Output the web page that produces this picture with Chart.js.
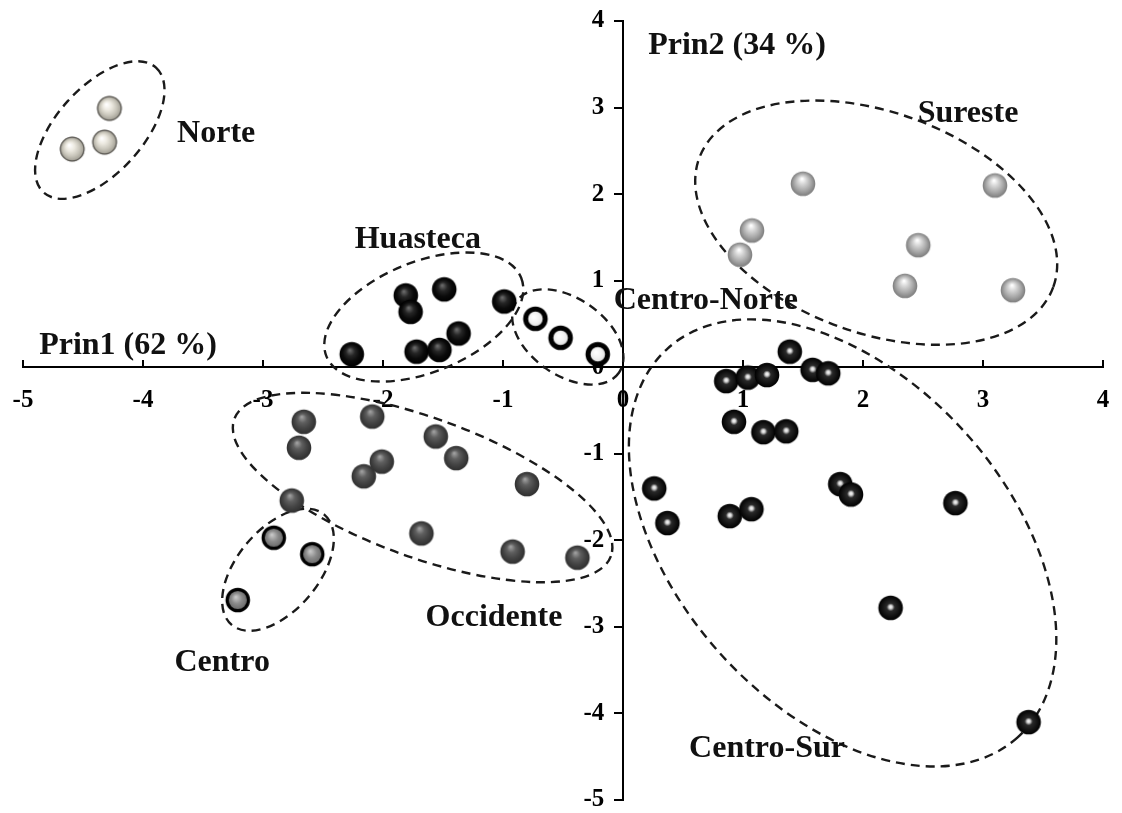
<!DOCTYPE html>
<html>
<head>
<meta charset="utf-8">
<script src="https://cdn.jsdelivr.net/npm/chart.js@4/dist/chart.umd.min.js"></script>
<style>
  html, body { margin: 0; padding: 0; background: #fff; }
  canvas { display: block; }
</style>
</head>
<body>
<canvas id="pca" width="1122" height="813"></canvas>
<script>
// puntajes (Prin1, Prin2)
const norteX = [-4.28, -4.32, -4.59];
const norteY = [2.99, 2.60, 2.52];

const huastecaX = [-2.26, -1.81, -1.77, -1.49, -1.72, -1.53, -1.37, -0.99];
const huastecaY = [0.15, 0.83, 0.64, 0.90, 0.18, 0.20, 0.39, 0.76];

const centroNorteX = [-0.73, -0.52, -0.21];
const centroNorteY = [0.56, 0.34, 0.15];

const suresteX = [0.975, 1.075, 1.50, 2.35, 2.46, 3.10, 3.25];
const suresteY = [1.30, 1.58, 2.12, 0.94, 1.41, 2.10, 0.89];

const occidenteX = [-2.76, -2.70, -2.66, -2.16, -2.09, -2.01, -1.68, -1.56, -1.39, -0.92, -0.80, -0.38];
const occidenteY = [-1.54, -0.93, -0.63, -1.26, -0.57, -1.09, -1.92, -0.80, -1.05, -2.13, -1.35, -2.20];

const centroX = [-3.21, -2.91, -2.59];
const centroY = [-2.69, -1.97, -2.16];

const centroSurX = [0.26, 0.37, 0.86, 0.89, 0.925, 1.04, 1.07, 1.17, 1.20, 1.36, 1.39, 1.58, 1.71, 1.81, 1.90, 2.23, 2.77, 3.38];
const centroSurY = [-1.40, -1.80, -0.16, -1.72, -0.63, -0.12, -1.64, -0.75, -0.09, -0.74, 0.18, -0.03, -0.07, -1.35, -1.47, -2.78, -1.57, -4.10];

const xTicks = [-5, -4, -3, -2, -1, 0, 1, 2, 3, 4];
const yTicks = [-5, -4, -3, -2, -1, 0, 1, 2, 3, 4];

const FONT = '"Liberation Serif", "Times New Roman", serif';

// esferas dibujadas en un canvas chico, usadas como pointStyle
const sphere = (kind) => {
  const s = 30, c = document.createElement('canvas');
  c.width = s; c.height = s;
  const g = c.getContext('2d');
  const cx = s / 2, cy = s / 2, r = 12.3;

  const shaded = (stops, hx, hy, rad) => {
    const gr = g.createRadialGradient(cx + hx, cy + hy, 0.5, cx, cy, rad);
    stops.forEach((col, i) => gr.addColorStop(i / (stops.length - 1), col));
    g.beginPath();
    g.arc(cx, cy, rad, 0, Math.PI * 2);
    g.fillStyle = gr;
    g.fill();
  };

  if (kind == 'norte') {
    shaded(['#ffffff', '#ecE9e0', '#c9c6bb', '#9b988e'], -3, -4, r);
    g.lineWidth = 1.2; g.strokeStyle = '#55534e';
    g.beginPath(); g.arc(cx, cy, r - 0.5, 0, Math.PI * 2); g.stroke();
  } else if (kind == 'sureste') {
    shaded(['#ffffff', '#d2d2d2', '#a9a9a9', '#7d7d7d'], -1, -5, r);
  } else if (kind == 'huasteca') {
    shaded(['#6a6a6a', '#262626', '#0b0b0b', '#000000'], -2, -4, r);
  } else if (kind == 'occidente') {
    shaded(['#a0a0a0', '#5f5f5f', '#444444', '#2f2f2f'], -2, -5, r);
  } else if (kind == 'centro') {
    shaded(['#c8c8c8', '#8a8a8a', '#666666'], -2, -3, r - 2);
    g.lineWidth = 3.2; g.strokeStyle = '#000';
    g.beginPath(); g.arc(cx, cy, r - 1.6, 0, Math.PI * 2); g.stroke();
  } else if (kind == 'centroNorte') {
    shaded(['#ffffff', '#f2f2f2', '#d8d8d8'], -2, -2, r - 3);
    g.lineWidth = 5; g.strokeStyle = '#000';
    g.beginPath(); g.arc(cx, cy, r - 2.5, 0, Math.PI * 2); g.stroke();
  } else {
    // centro-sur: negro con brillo blanco al centro
    const gr = g.createRadialGradient(cx, cy - 1, 0, cx, cy, r);
    gr.addColorStop(0, '#ffffff');
    gr.addColorStop(0.14, '#d0d0d0');
    gr.addColorStop(0.32, '#2a2a2a');
    gr.addColorStop(1, '#000000');
    g.beginPath(); g.arc(cx, cy, r, 0, Math.PI * 2);
    g.fillStyle = gr; g.fill();
  }
  return c;
};

const toPoints = (xs, ys) => xs.map((v, i) => ({ x: v, y: ys[i] }));

const makeSet = (label, xs, ys, kind) => ({
  label: label,
  data: toPoints(xs, ys),
  pointStyle: sphere(kind),
  pointRadius: 12,
  backgroundColor: '#000',
  borderColor: '#000'
});

// elipses de los grupos (centro en unidades de datos, semiejes en unidades de Prin1)
const grupos = [
  { cx: -4.36, cy: 2.74, a: 0.70, b: 0.36, rot: -48 },
  { cx: -1.66, cy: 0.58, a: 0.875, b: 0.46, rot: -22 },
  { cx: -0.46, cy: 0.35, a: 0.52, b: 0.32, rot: 35 },
  { cx: 2.11, cy: 1.67, a: 1.57, b: 0.92, rot: 20 },
  { cx: -1.67, cy: -1.39, a: 1.67, b: 0.58, rot: 20 },
  { cx: -2.875, cy: -2.34, a: 0.6, b: 0.34, rot: -50 },
  { cx: 1.83, cy: -2.03, a: 2.18, b: 1.375, rot: 48 }
];

const textos = [
  { t: 'Norte', x: -3.39, y: 2.70 },
  { t: 'Huasteca', x: -1.71, y: 1.47 },
  { t: 'Centro-Norte', x: 0.69, y: 0.77 },
  { t: 'Sureste', x: 2.875, y: 2.93 },
  { t: 'Occidente', x: -1.075, y: -2.89 },
  { t: 'Centro', x: -3.34, y: -3.41 },
  { t: 'Centro-Sur', x: 1.20, y: -4.41 },
  { t: 'Prin2 (34 %)', x: 0.95, y: 3.71 },
  { t: 'Prin1 (62 %)', x: -4.125, y: 0.25 }
];

const marcas = {
  id: 'marcas',
  beforeDatasetsDraw(chart) {
    const { ctx, scales: { x, y } } = chart;
    const ux = x.getPixelForValue(1) - x.getPixelForValue(0);
    ctx.save();
    ctx.setLineDash([9, 6]);
    ctx.lineWidth = 2.4;
    ctx.strokeStyle = '#1a1a1a';
    grupos.forEach(e => {
      ctx.beginPath();
      ctx.ellipse(x.getPixelForValue(e.cx), y.getPixelForValue(e.cy),
        e.a * ux, e.b * ux, e.rot * Math.PI / 180, 0, Math.PI * 2);
      ctx.stroke();
    });
    ctx.restore();
  },
  afterDatasetsDraw(chart) {
    const { ctx, scales: { x, y } } = chart;
    ctx.save();
    ctx.font = 'bold 32px ' + FONT;
    ctx.fillStyle = '#111';
    ctx.textAlign = 'center';
    ctx.textBaseline = 'middle';
    textos.forEach(l => ctx.fillText(l.t, x.getPixelForValue(l.x), y.getPixelForValue(l.y)));
    ctx.restore();
  }
};

const tickFont = { family: FONT, size: 25, weight: 'bold' };

new Chart(document.getElementById('pca'), {
  type: 'scatter',
  data: {
    datasets: [
      makeSet('Norte', norteX, norteY, 'norte'),
      makeSet('Huasteca', huastecaX, huastecaY, 'huasteca'),
      makeSet('Centro-Norte', centroNorteX, centroNorteY, 'centroNorte'),
      makeSet('Sureste', suresteX, suresteY, 'sureste'),
      makeSet('Occidente', occidenteX, occidenteY, 'occidente'),
      makeSet('Centro', centroX, centroY, 'centro'),
      makeSet('Centro-Sur', centroSurX, centroSurY, 'centroSur')
    ]
  },
  options: {
    responsive: false,
    animation: false,
    layout: { padding: { left: 23, right: 19, top: 21, bottom: 13 } },
    plugins: { legend: { display: false }, tooltip: { enabled: false } },
    scales: {
      x: {
        type: 'linear', min: -5, max: 4,
        position: { y: 0 },
        afterFit: s => { s.height = 0; s.paddingLeft = 0; s.paddingRight = 0; },
        afterBuildTicks: s => { s.ticks = xTicks.map(v => ({ value: v })); },
        border: { color: '#000', width: 2 },
        grid: { drawOnChartArea: false, tickLength: -8, color: '#000', lineWidth: 2 },
        ticks: { color: '#000', padding: 26, font: tickFont, maxRotation: 0 }
      },
      y: {
        type: 'linear', min: -5, max: 4,
        position: { x: 0 },
        afterFit: s => { s.width = 0; s.paddingTop = 0; s.paddingBottom = 0; },
        afterBuildTicks: s => { s.ticks = yTicks.map(v => ({ value: v })); },
        border: { color: '#000', width: 2 },
        grid: { drawOnChartArea: false, tickLength: 8, color: '#000', lineWidth: 2 },
        ticks: { color: '#000', font: tickFont, callback: v => v + '   ' }
      }
    }
  },
  plugins: [marcas]
});
</script>
</body>
</html>
